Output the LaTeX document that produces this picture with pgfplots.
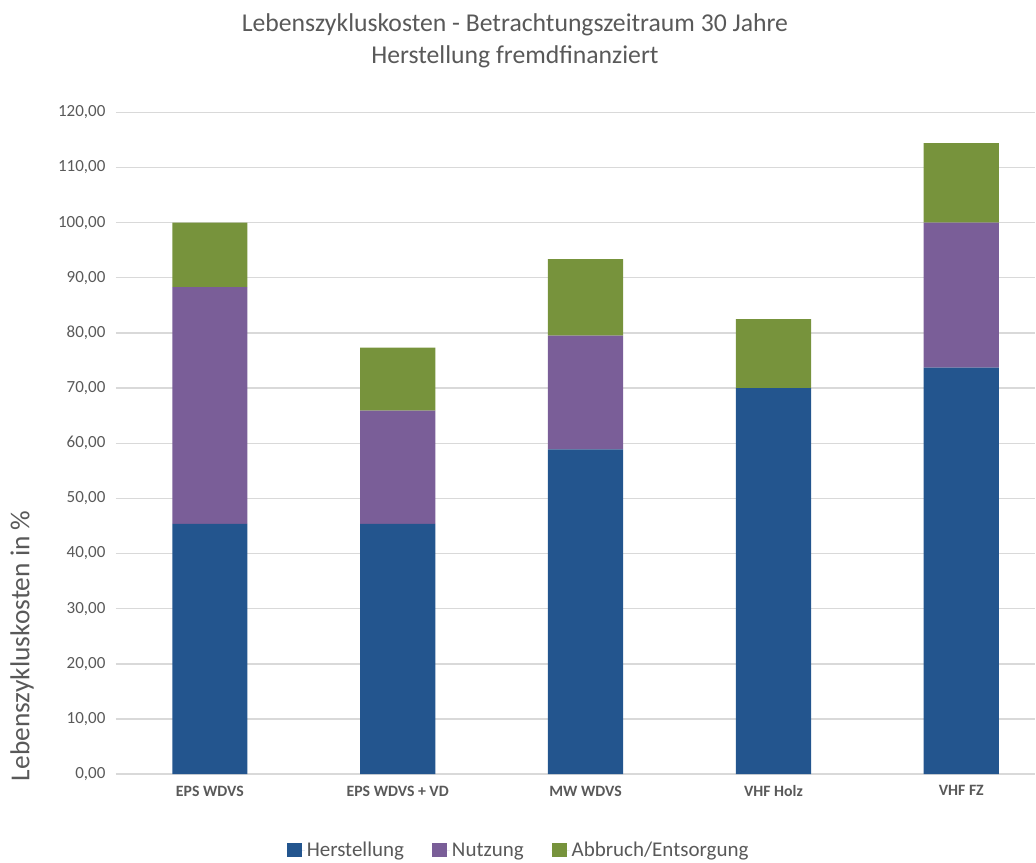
\documentclass[border=0pt]{standalone}
\usepackage{pgfplots}
\pgfplotsset{compat=1.18}
\usepackage{fontspec}
\setmainfont{Carlito}

\definecolor{herst}{RGB}{35,85,142}
\definecolor{nutz}{RGB}{122,94,152}
\definecolor{abbr}{RGB}{119,147,60}
\definecolor{gridgray}{RGB}{217,217,217}
\definecolor{txtgray}{RGB}{89,89,89}

\begin{document}
\begin{tikzpicture}
\begin{axis}[
  at={(0,0)}, anchor=south west,
  scale only axis,
  width=920pt, height=662.3pt,
  ybar stacked,
  bar width=0.4,
  xmin=-0.5, xmax=4.394,
  ymin=0, ymax=120,
  ytick={0,10,...,120},
  xtick=data,
  xticklabels={EPS WDVS,EPS WDVS + VD,MW WDVS,VHF Holz,VHF FZ},
  major tick length=0pt,
  axis x line*=bottom,
  axis y line*=left,
  y axis line style={draw=none},
  x axis line style={draw=gridgray, line width=1.4pt},
  ymajorgrids,
  grid style={draw=gridgray, line width=1.4pt},
  /pgf/number format/assume math mode=true,
  yticklabel={\pgfmathprintnumber[fixed, fixed zerofill, precision=2, use comma]{\tick}},
  yticklabel style={font=\fontsize{17}{20}\selectfont, text=txtgray, xshift=-7pt},
  xticklabel style={font=\bfseries\fontsize{15.8}{18}\selectfont, text=txtgray, yshift=-8pt},
  ytick style={draw=none},
  xtick style={draw=none},
  legend style={at={(0.438,-0.115)}, anchor=center, draw=none,
    legend columns=3, font=\fontsize{21}{25}\selectfont, text=txtgray,
    /tikz/every even column/.append style={column sep=26pt},
    legend cell align=left},
  legend image code/.code={\fill[#1] (0pt,-7pt) rectangle (15pt,7pt);
    \path (0pt,0pt) -- (18pt,0pt);},
  clip=false,
]
\addplot[fill=herst, draw=none] coordinates {(0,45.4) (1,45.4) (2,58.9) (3,70.0) (4,73.7)};
\addplot[fill=nutz, draw=none] coordinates {(0,42.9) (1,20.5) (2,20.6) (3,0) (4,26.3)};
\addplot[fill=abbr, draw=none] coordinates {(0,11.7) (1,11.45) (2,13.9) (3,12.5) (4,14.4)};
\legend{Herstellung,Nutzung,Abbruch/Entsorgung}

\node[rotate=90, anchor=center, text=txtgray, font=\fontsize{27.4}{31}\selectfont]
  at (rel axis cs:-0.1022,0.194) {Lebenszykluskosten in \%};
\node[anchor=center, text=txtgray, font=\fontsize{25.7}{30}\selectfont]
  at (rel axis cs:0.434,1.132) {Lebenszykluskosten - Betrachtungszeitraum 30 Jahre};
\node[anchor=center, text=txtgray, font=\fontsize{25.7}{30}\selectfont]
  at (rel axis cs:0.434,1.0837) {Herstellung fremdfinanziert};
\end{axis}
\useasboundingbox (-116pt,-88.3pt) rectangle (920pt,774.7pt);
\end{tikzpicture}
\end{document}
